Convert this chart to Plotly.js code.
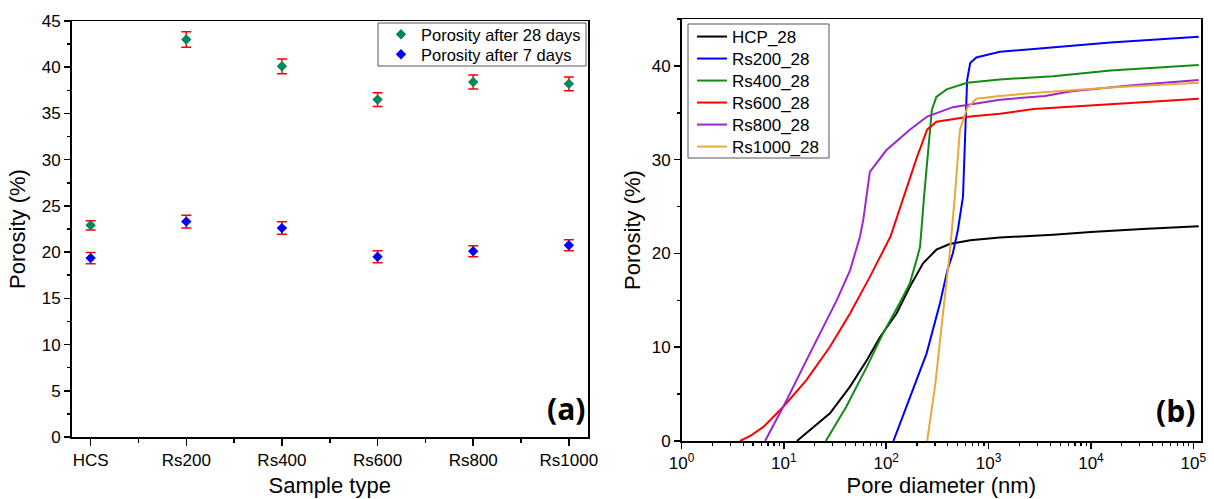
<!DOCTYPE html>
<html>
<head>
<meta charset="utf-8">
<script src="https://cdn.plot.ly/plotly-3.0.1.min.js"></script>
<style>html,body{margin:0;padding:0;background:#fff;}#chart{width:1214px;height:499px;}</style>
</head>
<body>
<div id="chart"></div>
<script>
// ---------- Panel (a) data ----------
const sampleTypes = ['HCS', 'Rs200', 'Rs400', 'Rs600', 'Rs800', 'Rs1000'];
const porosity28 = [22.9, 43.0, 40.1, 36.5, 38.4, 38.2];
const error28 = [0.5, 0.85, 0.8, 0.75, 0.75, 0.75];
const porosity7 = [19.35, 23.3, 22.6, 19.5, 20.1, 20.75];
const error7 = [0.62, 0.7, 0.68, 0.65, 0.6, 0.6];

// ---------- Panel (b) data: pore diameter (nm) vs cumulative porosity (%) ----------
const hcpD = [13.4, 28.2, 44.3, 64.6, 87.1, 126, 170, 229, 309, 417, 661, 1290, 4270, 10000, 31600, 113000];
const hcpP = [0, 2.95, 5.8, 8.6, 11.1, 13.6, 16.45, 18.95, 20.4, 21.0, 21.4, 21.7, 22.0, 22.3, 22.6, 22.9];
const rs200D = [117.5, 170, 248, 335, 398, 447, 501, 562, 589, 617, 661, 759, 1290, 4270, 15500, 113000];
const rs200P = [0, 4.7, 9.35, 14.7, 18.3, 20.0, 22.5, 26.05, 33.2, 38.5, 40.3, 40.9, 41.5, 42.0, 42.5, 43.1];
const rs400D = [25.7, 40.7, 64.6, 93.3, 135, 170, 200, 214, 234, 257, 279, 309, 389, 617, 1290, 4270, 15500, 113000];
const rs400P = [0, 3.65, 7.9, 11.5, 14.7, 16.8, 19.5, 20.7, 26.0, 31.4, 35.3, 36.7, 37.5, 38.2, 38.55, 38.9, 39.5, 40.1];
const rs600D = [3.72, 4.79, 6.31, 9.89, 16.6, 28.2, 44.3, 69.2, 110, 148, 200, 251, 309, 661, 1290, 2750, 15500, 113000];
const rs600P = [0, 0.6, 1.5, 3.65, 6.5, 10.05, 13.6, 17.5, 21.8, 26.05, 30.3, 33.2, 34.05, 34.6, 34.9, 35.4, 35.9, 36.5];
const rs800D = [6.55, 10.7, 16.6, 24.3, 32.8, 44.3, 55.5, 59.7, 69.2, 100, 170, 251, 447, 1290, 3550, 6460, 24000, 113000];
const rs800P = [0, 4.4, 8.6, 12.2, 15.0, 18.2, 21.8, 23.6, 28.7, 31.0, 33.2, 34.6, 35.6, 36.4, 36.8, 37.3, 37.9, 38.5];
const rs1000D = [251, 302, 355, 417, 468, 525, 617, 759, 1290, 2750, 15500, 113000];
const rs1000P = [0, 6.1, 13.2, 20.0, 26.05, 33.2, 35.5, 36.5, 36.8, 37.1, 37.7, 38.2];

const logTickVals = [1, 10, 100, 1000, 10000, 100000];
const logTickText = ['10<sup>0</sup>', '10<sup>1</sup>', '10<sup>2</sup>', '10<sup>3</sup>', '10<sup>4</sup>', '10<sup>5</sup>'];

const FONT = 'Liberation Sans, Arial, sans-serif';
const W = 1214, H = 499;
const px = v => v / W;
const py = v => 1 - v / H;
const idx = sampleTypes.map((_, i) => i);

const traces = [
  {
    x: idx, y: porosity28, type: 'scatter', mode: 'markers', name: 'Porosity after 28 days',
    marker: {symbol: 'diamond', size: 8, color: '#00875a'},
    error_y: {type: 'data', array: error28, visible: true, color: '#ff0000', thickness: 1.5, width: 5},
    xaxis: 'x', yaxis: 'y', legend: 'legend'
  },
  {
    x: idx, y: porosity7, type: 'scatter', mode: 'markers', name: 'Porosity after 7 days',
    marker: {symbol: 'diamond', size: 8, color: '#0000ff'},
    error_y: {type: 'data', array: error7, visible: true, color: '#ff0000', thickness: 1.5, width: 5},
    xaxis: 'x', yaxis: 'y', legend: 'legend2'
  }
];

const series = [
  ['HCP_28', hcpD, hcpP, '#000000'],
  ['Rs200_28', rs200D, rs200P, '#0000ff'],
  ['Rs400_28', rs400D, rs400P, '#138a13'],
  ['Rs600_28', rs600D, rs600P, '#ff0000'],
  ['Rs800_28', rs800D, rs800P, '#9a26d4'],
  ['Rs1000_28', rs1000D, rs1000P, '#e8a935']
];
series.forEach((s, i) => traces.push({
  x: s[1], y: s[2], type: 'scatter', mode: 'lines', name: s[0],
  line: {color: s[3], width: 2},
  xaxis: 'x2', yaxis: 'y2', legend: 'legend' + (i + 3)
}));

const axCommon = {
  showline: true, linecolor: '#000', linewidth: 1.5, mirror: true,
  ticks: 'outside', tickcolor: '#000', tickwidth: 1.5, ticklen: 6,
  showgrid: false, zeroline: false,
  tickfont: {family: FONT, size: 17, color: '#000'}
};
const titleFont = {family: FONT, size: 22, color: '#000'};

function legendAt(xLeft, yCenter, size) {
  return {
    x: px(xLeft), xanchor: 'left', y: py(yCenter), yanchor: 'middle',
    bgcolor: 'rgba(0,0,0,0)', borderwidth: 0,
    font: {family: FONT, size: size, color: '#000'}, tracegroupgap: 0
  };
}

const layout = {
  width: W, height: H,
  margin: {l: 0, r: 0, t: 0, b: 0},
  paper_bgcolor: '#fff', plot_bgcolor: '#fff',
  font: {family: FONT, color: '#000'},
  xaxis: Object.assign({}, axCommon, {
    domain: [px(71.5), px(588)], range: [-0.2, 5.2],
    tickmode: 'array', tickvals: idx, ticktext: sampleTypes, ticklen: 7,
    minor: {ticks: 'outside', ticklen: 4, tickwidth: 1.5, tickcolor: '#000', dtick: 0.5, tick0: 0.5},
    title: {text: 'Sample type', font: titleFont, standoff: 8},
    anchor: 'y'
  }),
  yaxis: Object.assign({}, axCommon, {
    domain: [py(437), py(21)], range: [0, 45],
    tickmode: 'linear', tick0: 0, dtick: 5,
    minor: {ticks: 'outside', ticklen: 3.5, tickwidth: 1.5, tickcolor: '#000', dtick: 2.5},
    title: {text: 'Porosity (%)', font: titleFont, standoff: 10},
    anchor: 'x'
  }),
  xaxis2: Object.assign({}, axCommon, {
    type: 'log',
    domain: [px(681.5), px(1201)], range: [0, 5.075],
    tickmode: 'array', tickvals: logTickVals, ticktext: logTickText,
    minor: {ticks: 'outside', ticklen: 3.5, tickwidth: 1.2, tickcolor: '#000', dtick: 'D1'},
    title: {text: 'Pore diameter (nm)', font: titleFont, standoff: 4},
    anchor: 'y2'
  }),
  yaxis2: Object.assign({}, axCommon, {
    domain: [py(441), py(19)], range: [0, 45],
    tickmode: 'linear', tick0: 0, dtick: 10,
    minor: {ticks: 'outside', ticklen: 3.5, tickwidth: 1.5, tickcolor: '#000', dtick: 5},
    title: {text: 'Porosity (%)', font: titleFont, standoff: 5},
    anchor: 'x2'
  }),
  legend: legendAt(381, 34.5, 16.5),
  legend2: legendAt(381, 54.5, 16.5),
  legend3: legendAt(692, 37, 17),
  legend4: legendAt(692, 59, 17),
  legend5: legendAt(692, 81, 17),
  legend6: legendAt(692, 103, 17),
  legend7: legendAt(692, 125, 17),
  legend8: legendAt(692, 147, 17),
  showlegend: true,
  shapes: [
    {type: 'rect', xref: 'paper', yref: 'paper', x0: px(378), x1: px(586), y0: py(66), y1: py(23),
     line: {color: '#555', width: 1}, fillcolor: '#fff', layer: 'above'},
    {type: 'rect', xref: 'paper', yref: 'paper', x0: px(688), x1: px(829), y0: py(158), y1: py(24),
     line: {color: '#555', width: 1}, fillcolor: '#fff', layer: 'above'}
  ],
  annotations: [
    {text: '<b>(a)</b>', xref: 'paper', yref: 'paper', x: px(587), xanchor: 'right', y: py(408), yanchor: 'middle',
     showarrow: false, font: {family: 'Open Sans, Liberation Sans, sans-serif', size: 30, color: '#000'}},
    {text: '<b>(b)</b>', xref: 'paper', yref: 'paper', x: px(1197), xanchor: 'right', y: py(410), yanchor: 'middle',
     showarrow: false, font: {family: 'Open Sans, Liberation Sans, sans-serif', size: 30, color: '#000'}}
  ]
};

Plotly.newPlot('chart', traces, layout, {displayModeBar: false, staticPlot: true});
</script>
</body>
</html>
